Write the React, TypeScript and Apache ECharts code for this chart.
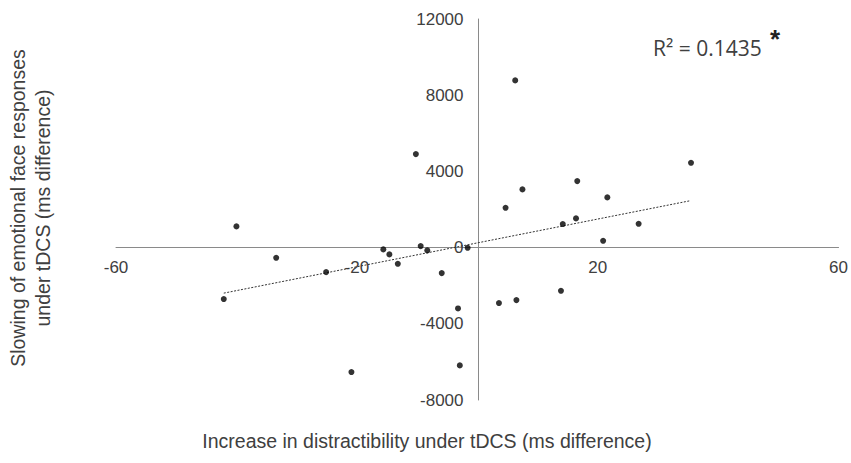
import React, { useEffect, useRef } from "react";
import * as echarts from "echarts";

// Data: [increase in distractibility (ms), slowing of emotional face responses (ms)]
const xValues = [
  -40.0, -33.4, -42.1, -25.1, -20.9, -15.6, -14.6, -13.2, -10.2, -9.4, -8.3, -5.9, -3.2, -2.9,
  -1.6, 3.6, 4.7, 6.3, 6.5, 7.5, 13.9, 14.2, 16.6, 16.4, 20.9, 21.6, 26.8, 35.5,
];
const yValues = [
  1113, -535, -2703, -1286, -6535, -94, -357, -850, 4908, 79, -147, -1339, -3192, -6184,
  -10, -2913, 2089, 8777, -2756, 3055, -2268, 1234, 3491, 1533, 357, 2635, 1249, 4451,
];
// Linear trendline endpoints
const trendX = [-42.1, 35.2];
const trendY = [-2390, 2450];

const xTickLabels = [-60, -20, 20, 60];
const yTickLabels = [-8000, -4000, 0, 4000, 8000, 12000];

const xTitle = "Increase in distractibility under tDCS (ms difference)";
const yTitleLines = ["Slowing of emotional face responses", "under tDCS (ms difference)"];
const r2Text = "R\u00B2 = 0.1435";
const starText = "*";

const W = 851;
const H = 463;
const GRID = { left: 116, right: 10, top: 19, bottom: 63 };

export default function App() {
  const ref = useRef<HTMLDivElement>(null);

  useEffect(() => {
    if (!ref.current) return;
    const chart = echarts.init(ref.current, undefined, { renderer: "svg" });
    const points = xValues.map((x, i) => [x, yValues[i]]);
    const trend = trendX.map((x, i) => [x, trendY[i]]);
    const labelFont = "Liberation Sans, Arial, sans-serif";
    const textColor = "#404040";
    const axisColor = "#8a8a8a";

    const xMin = xTickLabels[0];
    const xMax = xTickLabels[xTickLabels.length - 1];
    const yMin = yTickLabels[0];
    const yMax = yTickLabels[yTickLabels.length - 1];
    const plotW = W - GRID.left - GRID.right;
    const plotH = H - GRID.top - GRID.bottom;
    // shift axes so that they cross at the origin (labels follow the axis)
    const yAxisOffset = -((0 - xMin) / (xMax - xMin)) * plotW;
    const xAxisOffset = -((0 - yMin) / (yMax - yMin)) * plotH;

    chart.setOption({
      animation: false,
      backgroundColor: "#ffffff",
      grid: { ...GRID, containLabel: false },
      xAxis: {
        type: "value",
        min: xMin,
        max: xMax,
        interval: 20,
        position: "bottom",
        offset: xAxisOffset,
        axisLine: { show: true, onZero: false, lineStyle: { color: axisColor, width: 1 } },
        axisTick: { show: false },
        splitLine: { show: false },
        axisLabel: {
          show: true,
          margin: 11,
          color: textColor,
          fontSize: 17,
          fontFamily: labelFont,
          formatter: (v: number) => (xTickLabels.indexOf(v) >= 0 ? String(v) : ""),
        },
      },
      yAxis: {
        type: "value",
        min: yMin,
        max: yMax,
        interval: 4000,
        position: "left",
        offset: yAxisOffset,
        axisLine: { show: true, onZero: false, lineStyle: { color: axisColor, width: 1 } },
        axisTick: { show: false },
        splitLine: { show: false },
        axisLabel: {
          show: true,
          margin: 15,
          color: textColor,
          fontSize: 17,
          fontFamily: labelFont,
          formatter: (v: number) => (yTickLabels.indexOf(v) >= 0 ? String(v) : ""),
        },
      },
      series: [
        {
          type: "line",
          data: trend,
          showSymbol: false,
          symbol: "none",
          lineStyle: { color: "#333333", width: 1, type: [2, 1.5] },
          silent: true,
          z: 2,
        },
        {
          type: "scatter",
          data: points,
          symbol: "circle",
          symbolSize: 6,
          itemStyle: { color: "#000000" },
          z: 3,
        },
      ],
      graphic: [
        {
          type: "text",
          x: 427,
          y: 441,
          style: {
            text: xTitle,
            fill: textColor,
            font: `19.5px ${labelFont}`,
            textAlign: "center",
            textVerticalAlign: "middle",
          },
        },
        {
          type: "text",
          x: 18,
          y: 208,
          rotation: Math.PI / 2,
          style: {
            text: yTitleLines[0],
            fill: textColor,
            font: `19.5px ${labelFont}`,
            textAlign: "center",
            textVerticalAlign: "middle",
          },
        },
        {
          type: "text",
          x: 43,
          y: 208,
          rotation: Math.PI / 2,
          style: {
            text: yTitleLines[1],
            fill: textColor,
            font: `19.5px ${labelFont}`,
            textAlign: "center",
            textVerticalAlign: "middle",
          },
        },
        {
          type: "text",
          x: 653,
          y: 48,
          style: {
            text: r2Text,
            fill: textColor,
            font: `21px "Open Sans", sans-serif`,
            textAlign: "left",
            textVerticalAlign: "middle",
          },
        },
        {
          type: "text",
          x: 775,
          y: 39,
          style: {
            text: starText,
            fill: "#222222",
            font: `bold 26px "Liberation Sans", Arial, sans-serif`,
            textAlign: "center",
            textVerticalAlign: "middle",
          },
        },
      ],
    });
    return () => chart.dispose();
  }, []);

  return (
    <div
      ref={ref}
      style={{ position: "fixed", left: 0, top: 0, width: W, height: H }}
    />
  );
}
